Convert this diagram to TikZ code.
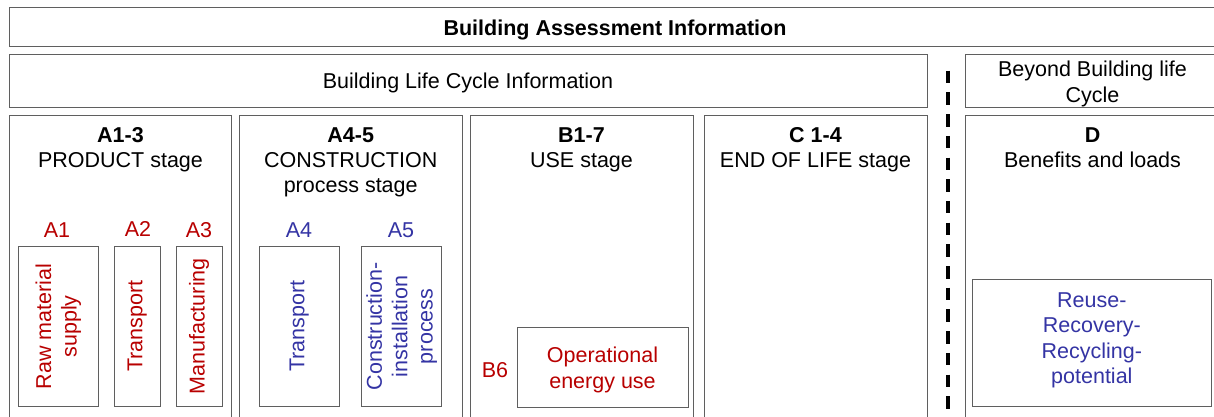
\documentclass[tikz,border=0pt]{standalone}
\usepackage{fontspec}
\setmainfont{Liberation Sans}
\definecolor{boxgray}{HTML}{5F5F5F}
\definecolor{lcared}{HTML}{B80000}
\definecolor{lcablue}{HTML}{3434A4}
\tikzset{
  frame/.style={draw=boxgray, line width=1pt, inner sep=0pt, outer sep=0pt, rectangle, anchor=north west},
  txt/.style={font=\fontsize{21.5}{25.3}\selectfont, inner sep=0pt, outer sep=0pt, anchor=base},
  btxt/.style={font=\fontsize{21.5}{25.3}\selectfont\bfseries, inner sep=0pt, outer sep=0pt, anchor=base},
  rtxt/.style={font=\fontsize{21.5}{25.3}\selectfont, inner sep=0pt, outer sep=0pt, anchor=center, rotate=90, align=center},
  ctxt/.style={font=\fontsize{21.5}{25.3}\selectfont, inner sep=0pt, outer sep=0pt, anchor=center, align=center},
  dashline/.style={line width=3.4pt, dash pattern=on 12.5pt off 9.2pt}
}
\begin{document}
\begin{tikzpicture}[x=1pt,y=-1pt]
\useasboundingbox (0,0) rectangle (1214,416);
% top rows
\node[frame, minimum width=1240pt, minimum height=39pt] (top) at (9,7.5) {};
\node[btxt] (toptext) at (615,35.5) {Building Assessment Information};
\node[frame, minimum width=918pt, minimum height=53.7pt] (blc) at (9,54) {};
\node[txt] (blctext) at (468,88.6) {Building Life Cycle Information};
\node[frame, minimum width=280pt, minimum height=53.7pt] (bbl) at (965,54) {};
\node[txt] (bbltext1) at (1092.5,76.5) {Beyond Building life};
\node[txt] (bbltext2) at (1092.5,102) {Cycle};
% dashed separator
\coordinate (dashtop) at (948,70.7);
\coordinate (dashbot) at (948,420);
\draw[dashline] (dashtop) -- (dashbot);
% stage boxes
\node[frame, minimum width=222.2pt, minimum height=310pt] (a13) at (9.3,115) {};
\node[frame, minimum width=222.7pt, minimum height=310pt] (a45) at (239.3,115) {};
\node[frame, minimum width=223pt, minimum height=310pt] (b17) at (470,115) {};
\node[frame, minimum width=223pt, minimum height=310pt] (c14) at (704,115) {};
\node[frame, minimum width=280pt, minimum height=310pt] (dd) at (965,115) {};
% stage titles
\node[btxt] (a13t) at (120.5,142) {A1-3};
\node[txt] (a13s) at (120.5,167) {PRODUCT stage};
\node[btxt] (a45t) at (350.7,142) {A4-5};
\node[txt] (a45s) at (350.7,167) {CONSTRUCTION};
\node[txt] (a45s2) at (350.7,192) {process stage};
\node[btxt] (b17t) at (581.5,142) {B1-7};
\node[txt] (b17s) at (581.5,167) {USE stage};
\node[btxt] (c14t) at (815.5,142) {C 1-4};
\node[txt] (c14s) at (815.5,167) {END OF LIFE stage};
\node[btxt] (ddt) at (1092.5,142) {D};
\node[txt] (dds) at (1092.5,167) {Benefits and loads};
% module labels
\node[txt, text=lcared] (a1l) at (57,237) {A1};
\node[txt, text=lcared] (a2l) at (138,236.5) {A2};
\node[txt, text=lcared] (a3l) at (199,237) {A3};
\node[txt, text=lcablue] (a4l) at (299,237) {A4};
\node[txt, text=lcablue] (a5l) at (401,237) {A5};
% module boxes
\node[frame, minimum width=80pt, minimum height=160.7pt] (a1) at (18.3,246) {};
\node[frame, minimum width=46pt, minimum height=160.7pt] (a2) at (114.3,246) {};
\node[frame, minimum width=46pt, minimum height=160.7pt] (a3) at (176,246) {};
\node[frame, minimum width=80pt, minimum height=160.7pt] (a4) at (259.3,246) {};
\node[frame, minimum width=80pt, minimum height=160.7pt] (a5) at (361.7,246) {};
\node[rtxt, text=lcared] (a1t) at (a1.center) {Raw material\\supply};
\node[rtxt, text=lcared] (a2t) at (a2.center) {Transport};
\node[rtxt, text=lcared] (a3t) at (a3.center) {Manufacturing};
\node[rtxt, text=lcablue] (a4t) at (a4.center) {Transport};
\node[rtxt, text=lcablue] (a5t) at (a5.center) {Construction-\\installation\\process};
% B6
\node[txt, text=lcared] (b6l) at (495,377.7) {B6};
\node[frame, minimum width=171pt, minimum height=80pt] (b6) at (517,327) {};
\node[ctxt, text=lcared, yshift=-3pt] (b6t) at (b6.center) {Operational\\energy use};
% D module
\node[frame, minimum width=238.3pt, minimum height=127.7pt] (dm) at (972.7,279) {};
\node[ctxt, text=lcablue, yshift=2.5pt] (dmt) at (dm.center) {Reuse-\\Recovery-\\Recycling-\\potential};
\end{tikzpicture}
\end{document}
